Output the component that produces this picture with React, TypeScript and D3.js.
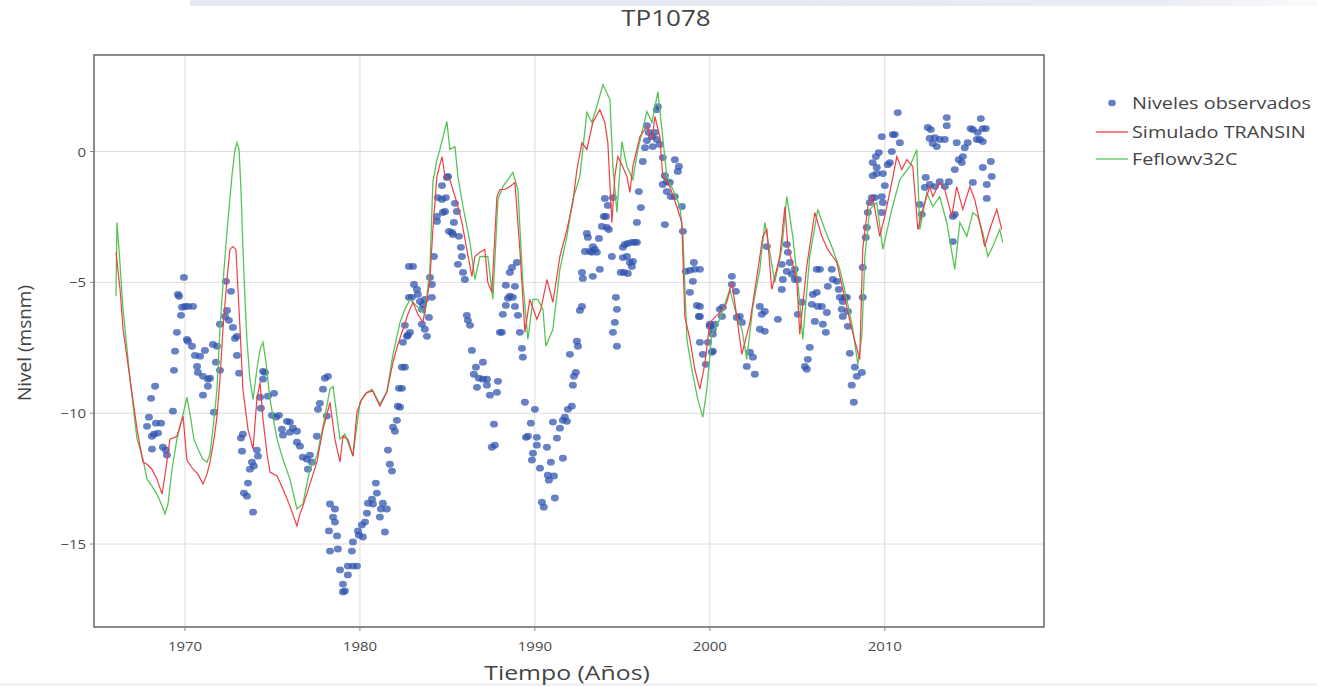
import React from "react";
import * as d3 from "d3";

// ===== datos: [año, nivel msnm] =====
const observados: [number, number][] = [
  [1967.83, -10.5], [1967.94, -10.15], [1968.06, -9.43], [1968.29, -8.97], [1968.11, -10.88],
  [1968.34, -10.38], [1968.63, -10.38], [1968.46, -10.76], [1968.23, -10.8], [1968.11, -11.37],
  [1968.74, -11.3], [1968.91, -11.41], [1968.97, -11.6], [1969.31, -9.92], [1969.37, -8.36],
  [1969.43, -7.63], [1969.54, -6.91], [1969.6, -5.46], [1969.66, -5.53], [1969.77, -6.26],
  [1969.83, -5.95], [1969.94, -4.81], [1970.0, -5.92], [1970.17, -5.92], [1970.46, -5.92],
  [1970.11, -7.18], [1970.17, -7.25], [1970.4, -7.44], [1970.57, -7.79], [1970.86, -7.82],
  [1971.14, -7.6], [1971.6, -7.37], [1971.83, -7.44], [1970.69, -8.21], [1970.74, -8.44],
  [1971.03, -8.59], [1971.31, -8.7], [1971.43, -8.66], [1971.31, -8.97], [1971.03, -9.31],
  [1971.77, -8.05], [1972.0, -8.36], [1971.66, -9.96], [1972.34, -4.96], [1972.63, -5.34],
  [1972.4, -6.07], [1972.29, -6.3], [1972.51, -6.45], [1972.0, -6.6], [1972.74, -6.72],
  [1972.97, -7.06], [1972.86, -7.14], [1972.97, -7.79], [1973.09, -8.47], [1973.2, -10.95],
  [1973.31, -10.8], [1973.26, -11.45], [1974.11, -11.41], [1974.17, -11.64], [1973.83, -11.87],
  [1973.94, -12.02], [1973.71, -12.14], [1973.6, -12.67], [1973.37, -13.05], [1973.54, -13.17],
  [1973.89, -13.78], [1974.46, -8.4], [1974.57, -8.44], [1974.46, -8.7], [1974.29, -9.39],
  [1974.34, -9.81], [1974.74, -9.35], [1975.09, -9.24], [1974.97, -10.08], [1975.2, -10.15],
  [1975.37, -10.08], [1975.83, -10.31], [1976.0, -10.34], [1976.17, -10.57], [1975.54, -10.61],
  [1975.6, -10.84], [1976.0, -10.73], [1976.4, -10.69], [1976.4, -11.11], [1976.57, -11.26],
  [1976.74, -11.68], [1976.97, -11.76], [1977.14, -11.6], [1977.26, -11.87], [1977.03, -12.14],
  [1977.54, -10.88], [1977.89, -9.08], [1978.0, -8.66], [1978.17, -8.59], [1977.71, -9.62],
  [1977.6, -9.85], [1978.11, -10.11], [1978.29, -13.47], [1978.57, -13.66], [1978.46, -13.97],
  [1978.57, -14.16], [1978.23, -14.5], [1978.69, -14.69], [1978.29, -15.27], [1978.74, -15.19],
  [1978.86, -15.99], [1979.03, -16.53], [1979.03, -16.83], [1979.14, -16.79], [1979.31, -16.18],
  [1979.31, -15.84], [1979.6, -15.84], [1979.83, -15.84], [1979.54, -15.27], [1979.6, -14.92],
  [1979.89, -14.5], [1980.11, -14.27], [1980.29, -14.16], [1979.94, -14.66], [1980.17, -14.73],
  [1980.4, -13.82], [1980.46, -13.44], [1980.69, -13.28], [1980.91, -12.67], [1980.97, -13.05],
  [1980.74, -13.47], [1981.2, -13.66], [1981.31, -13.44], [1981.54, -13.66], [1981.14, -13.97],
  [1981.43, -14.54], [1981.6, -11.41], [1981.71, -11.95], [1981.83, -12.21], [1981.89, -10.53],
  [1982.0, -10.69], [1982.11, -10.27], [1982.17, -9.73], [1982.23, -9.05], [1982.4, -8.24],
  [1982.57, -8.24], [1982.46, -7.29], [1982.69, -7.06], [1982.29, -9.77], [1982.4, -9.05],
  [1982.8, -4.39], [1982.8, -5.57], [1982.57, -6.64], [1982.74, -7.02], [1983.03, -4.39],
  [1983.09, -5.08], [1983.26, -5.27], [1983.31, -5.46], [1982.97, -5.57], [1983.43, -5.73],
  [1983.6, -5.84], [1983.71, -5.65], [1983.54, -6.03], [1984.0, -4.81], [1984.11, -5.08],
  [1984.11, -5.57], [1984.23, -4.01], [1983.94, -6.34], [1983.54, -6.6], [1983.71, -6.79],
  [1982.86, -6.91], [1983.83, -7.06], [1984.4, -2.67], [1984.4, -2.48], [1984.69, -1.3],
  [1984.97, -0.99], [1985.03, -0.95], [1984.46, -1.76], [1984.69, -1.83], [1984.91, -1.76],
  [1984.86, -2.29], [1984.74, -2.33], [1985.43, -1.98], [1985.54, -2.29], [1985.37, -2.71],
  [1985.09, -3.05], [1985.26, -3.09], [1985.31, -3.17], [1985.66, -3.24], [1985.77, -3.66],
  [1985.83, -4.01], [1985.6, -4.31], [1985.89, -4.62], [1986.0, -4.89], [1986.11, -6.26],
  [1986.17, -6.45], [1986.29, -6.64], [1986.4, -7.6], [1987.03, -8.05], [1986.63, -8.24],
  [1986.51, -8.51], [1986.8, -8.66], [1987.03, -8.7], [1987.26, -8.7], [1987.89, -8.78],
  [1987.26, -8.93], [1986.69, -9.01], [1987.83, -9.2], [1987.43, -9.31], [1987.66, -10.42],
  [1987.71, -11.22], [1987.54, -11.3], [1988.0, -6.91], [1988.11, -6.91], [1988.17, -6.22],
  [1988.34, -5.88], [1988.46, -5.61], [1988.57, -5.53], [1988.74, -5.57], [1988.86, -5.92],
  [1989.03, -6.26], [1988.34, -5.11], [1988.86, -5.15], [1988.57, -4.62], [1988.69, -4.43],
  [1988.97, -4.24], [1989.14, -6.91], [1989.26, -7.52], [1989.31, -7.86], [1989.43, -9.58],
  [1990.0, -9.85], [1989.77, -10.38], [1989.49, -10.92], [1989.6, -10.88], [1990.11, -10.92],
  [1990.11, -11.22], [1989.89, -11.53], [1989.83, -11.79], [1990.29, -12.1], [1990.69, -11.3],
  [1990.91, -11.87], [1991.03, -10.34], [1991.26, -10.95], [1991.43, -10.57], [1991.6, -11.72],
  [1990.74, -12.37], [1991.09, -12.4], [1990.8, -12.56], [1990.4, -13.4], [1990.51, -13.59],
  [1991.14, -13.24], [1991.71, -10.15], [1991.83, -10.31], [1991.6, -10.27], [1991.89, -9.85],
  [1992.11, -9.73], [1992.17, -8.93], [1992.23, -8.59], [1992.34, -8.44], [1992.0, -7.75],
  [1992.4, -7.25], [1992.46, -7.44], [1992.69, -4.62], [1992.74, -4.85], [1992.69, -5.92],
  [1992.57, -6.07], [1992.97, -3.13], [1993.03, -3.28], [1992.86, -3.82], [1993.14, -3.82],
  [1993.26, -3.85], [1993.31, -3.63], [1993.43, -3.74], [1993.54, -3.85], [1993.66, -3.32],
  [1993.31, -4.77], [1993.71, -4.5], [1993.83, -2.86], [1993.94, -2.48], [1994.06, -2.48],
  [1994.11, -2.9], [1994.23, -2.98], [1994.0, -1.79], [1994.17, -2.06], [1994.46, -1.76],
  [1994.4, -4.01], [1994.63, -5.57], [1994.69, -6.03], [1994.57, -6.53], [1994.46, -6.91],
  [1994.69, -7.44], [1995.03, -3.66], [1995.14, -3.55], [1995.31, -3.51], [1995.54, -3.47],
  [1995.71, -3.47], [1995.83, -3.47], [1995.03, -4.05], [1995.26, -4.01], [1995.43, -4.24],
  [1995.54, -4.39], [1995.6, -4.2], [1994.91, -4.62], [1995.09, -4.62], [1995.31, -4.66],
  [1995.83, -2.71], [1996.06, -2.14], [1995.94, -1.53], [1996.17, -0.38], [1996.29, 0.15],
  [1996.4, 0.42], [1996.51, 0.73], [1996.69, 0.57], [1996.74, 0.19], [1996.86, 0.73],
  [1996.97, 0.46], [1996.4, 0.99], [1996.97, 1.6], [1997.03, 1.72], [1997.14, 0.27],
  [1997.31, -0.23], [1997.43, -0.92], [1997.54, -1.15], [1997.71, -1.18], [1997.31, -1.26],
  [1997.54, -1.53], [1997.77, -1.72], [1998.0, -1.72], [1997.43, -2.79], [1998.0, -0.31],
  [1998.23, -0.57], [1998.17, -0.76], [1998.4, -2.1], [1998.46, -3.05], [1998.63, -4.58],
  [1998.86, -4.54], [1999.14, -4.5], [1999.09, -4.24], [1999.03, -4.96], [1998.86, -5.38],
  [1999.26, -5.88], [1999.37, -6.3], [1999.43, -7.29], [1999.6, -7.75], [1999.77, -8.13],
  [2000.11, -7.67], [1999.89, -7.29], [2000.17, -6.98], [2000.17, -7.63], [2000.0, -6.6],
  [2000.17, -6.79], [1999.43, -4.5], [1999.43, -5.92], [1999.43, -6.3], [2000.0, -6.68],
  [2000.29, -6.6], [2000.57, -6.03], [2000.74, -5.95], [2000.69, -6.3], [2001.26, -4.77],
  [2001.26, -5.08], [2001.49, -5.34], [2001.54, -6.34], [2001.71, -6.3], [2001.83, -6.53],
  [2002.29, -7.67], [2002.46, -7.86], [2002.11, -8.21], [2002.57, -8.51], [2002.86, -5.92],
  [2003.14, -6.11], [2002.97, -6.22], [2002.86, -6.79], [2003.14, -6.87], [2003.26, -3.63],
  [2003.89, -6.41], [2004.11, -5.27], [2004.17, -4.89], [2004.11, -4.31], [2004.4, -3.55],
  [2004.46, -3.85], [2004.57, -4.24], [2004.4, -4.58], [2004.69, -4.69], [2004.86, -4.5],
  [2004.86, -4.89], [2005.03, -4.89], [2005.26, -5.76], [2005.03, -6.22], [2005.71, -7.48],
  [2005.6, -7.94], [2005.43, -8.21], [2005.54, -8.32], [2005.83, -5.84], [2005.89, -5.46],
  [2006.11, -5.38], [2006.17, -5.92], [2006.4, -5.92], [2006.46, -6.6], [2006.69, -6.15],
  [2006.0, -6.49], [2006.63, -6.91], [2006.11, -4.5], [2006.29, -4.5], [2006.74, -5.15],
  [2006.97, -4.5], [2007.03, -4.89], [2007.26, -4.96], [2007.37, -5.27], [2007.43, -5.57],
  [2007.6, -5.73], [2007.71, -5.57], [2007.83, -5.57], [2007.54, -6.03], [2007.6, -6.3],
  [2007.89, -6.11], [2007.89, -6.68], [2008.0, -7.71], [2008.29, -8.24], [2008.11, -8.93],
  [2008.23, -9.58], [2008.4, -8.59], [2008.69, -8.44], [2008.74, -4.43], [2008.74, -5.57],
  [2008.91, -3.28], [2008.97, -2.9], [2009.03, -2.33], [2009.14, -1.95], [2009.26, -1.76],
  [2009.43, -1.76], [2009.83, -1.72], [2009.89, -1.95], [2009.83, -2.33], [2009.31, -0.92],
  [2009.54, -0.84], [2009.54, -0.61], [2009.31, -0.42], [2009.49, -0.19], [2009.66, -0.04],
  [2009.83, 0.57], [2010.17, -0.5], [2010.29, -0.42], [2009.89, -0.84], [2010.4, 0.0],
  [2010.0, -1.3], [2010.46, 0.65], [2010.57, 0.65], [2010.74, 1.49], [2010.86, 0.34],
  [2012.0, -2.02], [2012.11, -2.4], [2012.34, -0.99], [2012.29, -1.37], [2012.57, -1.26],
  [2012.86, -1.34], [2013.14, -1.15], [2013.43, -1.34], [2013.66, -1.15], [2012.46, 0.92],
  [2012.63, 0.84], [2012.86, 0.53], [2012.57, 0.5], [2012.74, 0.31], [2013.14, 0.46],
  [2012.97, 0.19], [2013.43, 0.46], [2013.54, 1.3], [2013.54, 0.99], [2013.89, -2.48],
  [2014.0, -2.4], [2013.89, -3.44], [2014.11, 0.34], [2014.0, -0.69], [2014.23, -0.31],
  [2014.4, -0.42], [2014.46, -0.19], [2014.57, 0.15], [2014.74, 0.34], [2014.91, 0.88],
  [2015.03, 0.84], [2015.26, 0.46], [2015.31, 0.73], [2015.43, 0.46], [2015.6, 0.38],
  [2015.49, 1.26], [2015.6, 0.88], [2015.77, 0.88], [2015.03, -1.18], [2015.6, -0.61],
  [2015.83, -1.26], [2015.83, -1.79], [2016.06, -0.38], [2016.11, -0.95],
];

const transin: [number, number][] = [
  [1966.06, -3.85], [1966.29, -5.27], [1966.46, -6.79], [1966.86, -8.7], [1967.26, -10.61],
  [1967.6, -11.87], [1967.83, -11.95], [1968.11, -12.14], [1968.4, -12.52], [1968.69, -13.09],
  [1968.91, -12.14], [1969.14, -10.99], [1969.54, -10.88], [1969.89, -10.11], [1970.11, -11.79],
  [1970.46, -12.14], [1970.74, -12.33], [1971.03, -12.71], [1971.26, -12.33], [1971.43, -11.87],
  [1971.66, -10.99], [1971.83, -10.11], [1972.0, -8.7], [1972.17, -6.79], [1972.4, -4.89],
  [1972.57, -3.74], [1972.74, -3.63], [1972.91, -3.74], [1973.03, -5.27], [1973.14, -6.68],
  [1973.31, -9.08], [1973.6, -10.61], [1973.89, -11.37], [1974.11, -9.47], [1974.29, -8.82],
  [1974.46, -10.23], [1974.69, -11.56], [1974.86, -12.25], [1975.26, -12.4], [1975.6, -12.9],
  [1976.0, -13.55], [1976.4, -14.31], [1976.57, -13.85], [1976.74, -13.55], [1977.14, -12.71],
  [1977.54, -11.87], [1977.89, -10.61], [1978.29, -9.58], [1978.57, -10.99], [1978.86, -11.87],
  [1979.03, -10.88], [1979.31, -10.99], [1979.6, -11.64], [1979.83, -9.96], [1980.11, -9.47],
  [1980.4, -9.2], [1980.74, -9.16], [1981.14, -9.73], [1981.54, -9.2], [1981.89, -8.05],
  [1982.17, -7.37], [1982.46, -6.79], [1982.74, -6.22], [1983.03, -5.76], [1983.31, -6.22],
  [1983.6, -6.53], [1983.83, -5.65], [1984.0, -4.89], [1984.17, -2.98], [1984.4, -0.95],
  [1984.69, -0.19], [1984.86, -0.95], [1985.14, -1.07], [1985.31, -1.45], [1985.54, -1.95],
  [1985.83, -2.71], [1986.11, -3.74], [1986.4, -4.77], [1986.57, -4.01], [1986.86, -3.85],
  [1987.14, -3.74], [1987.31, -5.0], [1987.54, -5.38], [1987.83, -1.72], [1988.0, -1.45],
  [1988.29, -1.45], [1988.57, -1.34], [1988.86, -1.18], [1989.14, -3.74], [1989.43, -6.9],
  [1989.71, -5.65], [1990.11, -6.41], [1990.34, -6.03], [1990.69, -4.89], [1991.03, -5.76],
  [1991.43, -4.01], [1991.83, -2.98], [1992.17, -1.95], [1992.4, -0.69], [1992.69, 0.34],
  [1992.97, 0.08], [1993.31, 1.11], [1993.71, 1.6], [1994.0, 1.11], [1994.17, 0.34],
  [1994.4, -2.71], [1994.57, -0.95], [1994.74, -0.19], [1994.97, -0.5], [1995.26, -0.95],
  [1995.43, -1.56], [1995.6, -0.57], [1996.0, 0.57], [1996.4, 0.95], [1996.69, 0.46],
  [1996.86, 1.34], [1997.14, 0.57], [1997.31, -0.95], [1997.71, -1.34], [1998.11, -2.1],
  [1998.4, -2.71], [1998.57, -6.3], [1998.86, -7.18], [1999.14, -8.32], [1999.43, -9.08],
  [1999.71, -8.13], [2000.0, -6.53], [2000.57, -6.15], [2000.97, -5.76], [2001.26, -5.0],
  [2001.54, -6.3], [2001.83, -7.75], [2002.29, -6.53], [2002.69, -4.77], [2003.03, -3.24],
  [2003.26, -2.98], [2003.54, -5.27], [2004.0, -4.01], [2004.29, -2.1], [2004.46, -3.63],
  [2004.97, -4.89], [2005.14, -6.98], [2005.54, -4.39], [2006.0, -2.33], [2006.4, -3.24],
  [2006.74, -3.74], [2007.26, -4.24], [2007.6, -5.27], [2008.11, -6.79], [2008.57, -7.94],
  [2008.74, -3.74], [2009.03, -2.1], [2009.31, -1.72], [2009.71, -3.24], [2010.0, -2.48],
  [2010.4, -1.18], [2010.69, -0.19], [2010.97, -0.69], [2011.26, -0.31], [2011.6, -0.57],
  [2011.89, -2.98], [2012.17, -2.21], [2012.57, -1.34], [2012.74, -1.72], [2013.14, -1.18],
  [2013.43, -1.45], [2013.83, -2.48], [2014.11, -1.34], [2014.46, -2.21], [2014.86, -1.34],
  [2015.14, -1.83], [2015.43, -2.71], [2015.71, -3.63], [2016.0, -2.98], [2016.4, -2.21],
  [2016.69, -2.98],
];

const feflow: [number, number][] = [
  [1966.06, -5.53], [1966.11, -2.71], [1966.23, -3.74], [1966.46, -6.03], [1966.86, -8.7],
  [1967.26, -10.99], [1967.6, -11.76], [1967.83, -12.52], [1968.11, -12.79], [1968.4, -13.09],
  [1968.69, -13.55], [1968.86, -13.85], [1969.03, -13.47], [1969.26, -12.14], [1969.54, -10.99],
  [1969.89, -10.04], [1970.11, -9.39], [1970.29, -10.04], [1970.51, -10.99], [1970.74, -11.37],
  [1971.03, -11.76], [1971.26, -11.87], [1971.43, -11.56], [1971.66, -10.23], [1971.83, -9.08],
  [1972.0, -6.79], [1972.23, -4.5], [1972.46, -2.6], [1972.69, -0.88], [1972.86, 0.08],
  [1972.97, 0.34], [1973.09, 0.08], [1973.2, -1.45], [1973.31, -3.63], [1973.43, -5.65],
  [1973.54, -7.18], [1973.71, -8.7], [1973.89, -9.47], [1974.11, -8.32], [1974.29, -7.56],
  [1974.46, -7.29], [1974.63, -8.05], [1974.86, -9.47], [1975.26, -10.99], [1975.6, -11.76],
  [1976.0, -12.52], [1976.4, -13.66], [1976.74, -13.47], [1977.14, -12.14], [1977.54, -11.64],
  [1977.89, -10.5], [1978.29, -9.08], [1978.46, -8.97], [1978.86, -10.99], [1979.14, -10.8],
  [1979.6, -11.64], [1980.0, -9.58], [1980.29, -9.27], [1980.69, -9.08], [1981.14, -9.66],
  [1981.54, -9.16], [1981.89, -7.75], [1982.29, -6.53], [1982.57, -6.03], [1982.86, -5.65],
  [1983.14, -5.84], [1983.43, -6.03], [1983.71, -6.22], [1984.0, -4.5], [1984.17, -1.18],
  [1984.4, -0.31], [1984.57, 0.08], [1984.97, 1.15], [1985.14, 0.08], [1985.43, 0.19],
  [1985.6, -0.95], [1985.89, -2.1], [1986.29, -3.47], [1986.57, -4.89], [1986.86, -4.01],
  [1987.31, -4.01], [1987.6, -5.65], [1987.89, -1.83], [1988.17, -1.34], [1988.74, -0.8],
  [1989.03, -1.45], [1989.31, -5.0], [1989.6, -7.18], [1989.89, -5.65], [1990.17, -5.65],
  [1990.46, -6.03], [1990.63, -7.44], [1991.03, -6.79], [1991.43, -4.5], [1991.83, -3.24],
  [1992.17, -1.83], [1992.57, -0.95], [1992.97, 1.49], [1993.26, 1.11], [1993.54, 1.72],
  [1993.89, 2.56], [1994.29, 1.98], [1994.46, -0.57], [1994.69, -2.33], [1994.97, 0.38],
  [1995.26, -0.57], [1995.6, -1.07], [1995.89, 0.08], [1996.4, 1.53], [1996.69, 1.11],
  [1997.03, 2.29], [1997.26, 0.84], [1997.54, -0.95], [1997.89, -1.45], [1998.29, -2.1],
  [1998.46, -3.24], [1998.69, -7.18], [1998.97, -8.32], [1999.31, -9.47], [1999.6, -10.15],
  [1999.83, -9.08], [2000.11, -6.98], [2000.57, -6.41], [2001.14, -5.27], [2001.54, -6.3],
  [2001.83, -6.79], [2002.11, -7.94], [2002.46, -5.92], [2002.86, -4.5], [2003.14, -2.71],
  [2003.31, -3.36], [2003.71, -5.0], [2004.11, -3.74], [2004.4, -1.72], [2004.74, -3.24],
  [2005.14, -5.76], [2005.31, -7.18], [2005.71, -4.01], [2006.17, -2.21], [2006.57, -2.98],
  [2006.97, -3.63], [2007.43, -4.5], [2007.83, -5.65], [2008.17, -6.79], [2008.46, -8.13],
  [2008.69, -7.06], [2008.86, -4.01], [2009.14, -2.21], [2009.54, -1.95], [2009.89, -3.74],
  [2010.4, -2.21], [2010.86, -1.07], [2011.43, -0.57], [2011.83, 0.08], [2012.0, -2.98],
  [2012.4, -1.56], [2012.74, -2.1], [2013.14, -1.72], [2013.54, -2.71], [2014.0, -4.5],
  [2014.29, -2.71], [2014.69, -3.24], [2015.03, -2.33], [2015.31, -2.48], [2015.6, -3.09],
  [2015.89, -4.01], [2016.17, -3.63], [2016.57, -2.98], [2016.74, -3.47],
];

const xTicks = [1970, 1980, 1990, 2000, 2010];
const yTicks = [0, -5, -10, -15];

const W = 1317;
const H = 686;
const FONT = "'Open Sans', 'Noto Sans', sans-serif";
const RED = "#ee3f45";
const GREEN = "#58c458";
const BLUE = "#2d52ad";
const TEXT = "#444";
// the reference screenshot is stretched horizontally
const SX = 1.24;

// texto estirado en horizontal
function Label({ x, y, size, anchor = "start", fill = TEXT, sx = SX, children }: any) {
  return (
    <text
      transform={`translate(${x},${y}) scale(${sx},1)`}
      textAnchor={anchor}
      fontSize={size}
      fill={fill}
    >
      {children}
    </text>
  );
}

export default function App() {
  const left = 94, right = 1044, top = 55, bottom = 627;

  const x = d3.scaleLinear().domain([1964.8, 2019.1]).range([left, right]);
  const y = d3.scaleLinear().domain([3.69, -18.17]).range([top, bottom]);

  const line = d3
    .line<[number, number]>()
    .x((d) => x(d[0]))
    .y((d) => y(d[1]));

  const fmtY = (v: number) => (v < 0 ? `\u2212${Math.abs(v)}` : `${v}`);

  return (
    <svg
      width={W}
      height={H}
      style={{ position: "absolute", left: 0, top: 0, background: "#fff" }}
      fontFamily={FONT}
    >
      <defs>
        <linearGradient id="band" x1="0" x2="1" y1="0" y2="0">
          <stop offset="0" stopColor="#e4e8f0" />
          <stop offset="0.85" stopColor="#e8ebf2" />
          <stop offset="1" stopColor="#fbfbfd" />
        </linearGradient>
        <clipPath id="plot">
          <rect x={left} y={top} width={right - left} height={bottom - top} />
        </clipPath>
      </defs>

      {/* franja superior */}
      <rect x={190} y={0} width={W - 190} height={6} fill="url(#band)" />
      <rect x={0} y={683} width={W} height={3} fill="#f1f2f5" />

      <Label x={666} y={26} size={21} anchor="middle">
        TP1078
      </Label>

      {/* grid */}
      <g stroke="#dcdcdc" strokeWidth={1}>
        {xTicks.map((t) => (
          <line key={t} x1={x(t)} x2={x(t)} y1={top} y2={bottom} />
        ))}
        {yTicks.map((t) => (
          <line key={t} x1={left} x2={right} y1={y(t)} y2={y(t)} />
        ))}
      </g>

      {/* series */}
      <g clipPath="url(#plot)">
        {observados.map((d, i) => (
          <ellipse
            key={i}
            cx={x(d[0])}
            cy={y(d[1])}
            rx={4}
            ry={3.4}
            fill={BLUE}
            fillOpacity={0.72}
          />
        ))}
        <path d={line(feflow) ?? ""} fill="none" stroke={GREEN} strokeWidth={1.3} />
        <path d={line(transin) ?? ""} fill="none" stroke={RED} strokeWidth={1.2} />
      </g>

      {/* marco */}
      <rect
        x={left}
        y={top}
        width={right - left}
        height={bottom - top}
        fill="none"
        stroke="#5a5a5a"
        strokeWidth={1.4}
      />

      {/* ejes */}
      <g>
        {xTicks.map((t) => (
          <g key={t}>
            <line x1={x(t)} x2={x(t)} y1={bottom} y2={bottom + 4} stroke="#888" />
            <Label x={x(t)} y={651} size={13} anchor="middle" fill="#4a4a4a" sx={1.15}>
              {t}
            </Label>
          </g>
        ))}
        {yTicks.map((t) => (
          <g key={t}>
            <line x1={left - 4} x2={left} y1={y(t)} y2={y(t)} stroke="#888" />
            <Label x={86} y={y(t) + 5} size={13} anchor="end" fill="#4a4a4a" sx={1.15}>
              {fmtY(t)}
            </Label>
          </g>
        ))}
      </g>

      <Label x={567} y={680} size={20} anchor="middle">
        Tiempo (Años)
      </Label>
      <text
        transform={`translate(31, 343) rotate(-90)`}
        textAnchor="middle"
        fontSize={19}
        fill={TEXT}
      >
        Nivel (msnm)
      </text>

      {/* leyenda */}
      <g>
        <ellipse cx={1112} cy={103} rx={3.8} ry={3.3} fill={BLUE} fillOpacity={0.75} />
        <Label x={1132} y={109} size={16}>Niveles observados</Label>
        <line x1={1096} x2={1128} y1={132} y2={132} stroke={RED} strokeWidth={1.3} />
        <Label x={1132} y={138} size={16}>Simulado TRANSIN</Label>
        <line x1={1096} x2={1128} y1={159} y2={159} stroke={GREEN} strokeWidth={1.3} />
        <Label x={1132} y={165} size={16}>Feflowv32C</Label>
      </g>
    </svg>
  );
}
